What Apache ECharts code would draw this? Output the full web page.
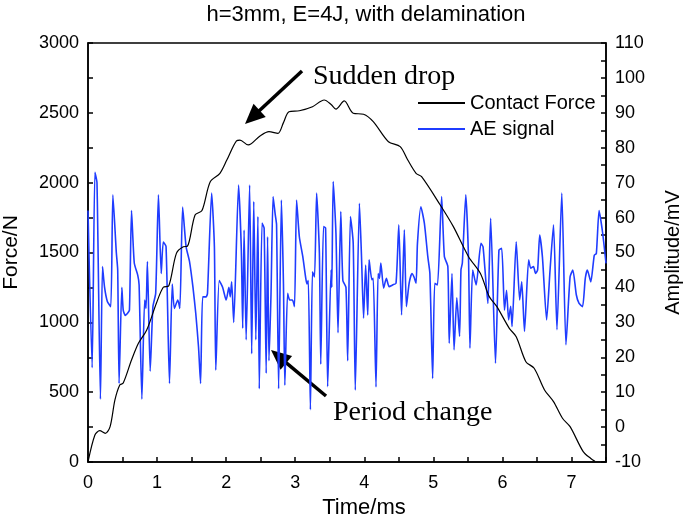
<!DOCTYPE html>
<html>
<head>
<meta charset="utf-8">
<script src="https://cdn.jsdelivr.net/npm/echarts@6/dist/echarts.min.js"></script>
<style>html,body{margin:0;padding:0;background:#fff}#c{width:685px;height:520px}</style>
</head>
<body>
<div id="c"></div>
<script>
// ---- data ----
const forceTime = [0,0.10,0.17,0.25,0.32,0.39,0.46,0.51,0.63,0.73,0.85,0.99,1.09,1.17,1.28,1.38,1.44,1.55,1.65,1.77,1.91,2.01,2.15,2.20,2.32,2.49,2.62,2.75,2.83,2.91,3.06,3.25,3.42,3.52,3.59,3.71,3.84,3.99,4.13,4.35,4.52,4.63,4.75,4.83,5.10,5.29,5.51,5.68,5.81,5.92,6.10,6.20,6.34,6.46,6.61,6.74,6.87,6.98,7.17,7.28,7.34];
const forceN = [0,193,224,205,253,444,551,565,730,850,945,1136,1251,1262,1494,1541,1545,1768,1800,2007,2067,2162,2300,2305,2270,2334,2365,2353,2430,2508,2515,2544,2592,2560,2527,2585,2497,2490,2437,2293,2258,2162,2067,2043,1840,1685,1470,1351,1184,1112,957,897,718,671,516,432,313,253,74,25,5];

const aeTime = [0,0.06,0.10,0.13,0.18,0.21,0.24,0.28,0.33,0.36,0.41,0.43,0.45,0.49,0.51,0.54,0.57,0.60,0.63,0.67,0.72,0.74,0.78,0.82,0.84,0.86,0.90,0.94,0.98,1.02,1.06,1.09,1.13,1.18,1.22,1.25,1.30,1.33,1.37,1.42,1.47,1.52,1.56,1.60,1.63,1.66,1.71,1.73,1.79,1.83,1.85,1.90,1.95,2.00,2.04,2.06,2.08,2.11,2.18,2.22,2.24,2.26,2.29,2.34,2.37,2.40,2.43,2.46,2.48,2.52,2.55,2.58,2.60,2.62,2.65,2.68,2.71,2.73,2.76,2.80,2.83,2.85,2.89,2.92,2.96,2.99,3.02,3.06,3.11,3.15,3.17,3.19,3.22,3.25,3.28,3.31,3.35,3.37,3.41,3.44,3.47,3.52,3.53,3.55,3.59,3.62,3.66,3.69,3.735,3.76,3.80,3.84,3.87,3.93,3.96,3.99,4.02,4.05,4.07,4.11,4.13,4.17,4.20,4.22,4.24,4.28,4.32,4.36,4.41,4.46,4.50,4.54,4.58,4.61,4.65,4.69,4.72,4.75,4.77,4.82,4.87,4.92,4.95,4.99,5.02,5.06,5.12,5.16,5.21,5.23,5.27,5.30,5.34,5.38,5.40,5.42,5.47,5.51,5.53,5.57,5.62,5.69,5.72,5.79,5.83,5.90,5.95,5.99,6.03,6.06,6.09,6.12,6.14,6.20,6.25,6.28,6.32,6.38,6.41,6.45,6.48,6.51,6.54,6.58,6.64,6.69,6.74,6.79,6.86,6.92,6.98,7.02,7.07,7.11,7.16,7.20,7.23,7.28,7.33,7.36,7.40,7.45,7.50];
const aeAmp = [62,17,73,70,8,46,40,36,34.5,66.5,50,45,12.5,40,33.5,32,32.5,33.5,62,47,43.5,40.7,8,36.4,34,47.4,16,34.5,38.3,66.5,44,53,51.7,12.5,41,34,36.4,34,63,51.7,47.4,40,32.6,23,12.5,37.3,37.3,38.3,67,51.7,16.3,42,40,36.4,40,37.3,41.6,30,69.3,50.7,28.3,56.4,25,69.3,21,64.6,25,60.3,11,58.4,57,15.4,54.5,19,38.3,66,61,58,11,65,41,12,38.3,36.4,36.4,34.5,65,54.5,48.8,43,41,42,5,44.5,43,67,50,18,57.4,57,11.6,45,40,70.3,55.5,27,61.7,42,40,19,60.3,52.6,10.6,64.1,48.8,31.2,46.4,32.1,47.9,42.2,42.6,11.5,44,42.6,47,39.8,42.6,40.2,40.7,41.2,57.9,32.1,56.5,34.5,41.2,44,43,41.2,52.6,63.1,58.4,48.8,44,13.9,41.2,40.7,66,48.8,46,24,44,22.1,37,26,45,47,66.5,47.9,22.6,45,40.7,52.6,51.6,35.4,59.8,18.3,50.7,51.2,33.5,39.2,30.7,34.6,28.8,53.1,36.4,41.6,27.4,47.9,45.5,46,44,45,55,48.6,30.7,45,57.9,27.9,67,23.6,43,45,37.9,35.4,34.5,42.6,45,41.6,49.2,49.7,62,55.8,46.9];

const seriesNames = ['Contact Force', 'AE signal'];
const titleText = 'h=3mm, E=4J, with delamination';
const xName = 'Time/ms', yLeftName = 'Force/N', yRightName = 'Amplitude/mV';
const noteDrop = 'Sudden drop', notePeriod = 'Period change';

// ---- chart ----
const FONT = 'Liberation Sans, Arial, sans-serif';
const SERIF = 'Liberation Serif, Times New Roman, serif';
const chart = echarts.init(document.getElementById('c'), null, {renderer: 'canvas'});
const forceData = forceTime.map((t, i) => [t, forceN[i]]);
const aeData = aeTime.map((t, i) => [t, aeAmp[i]]);

const axisCommon = {
  axisLine: {show: true, lineStyle: {color: '#000', width: 1.5}},
  axisTick: {show: true, inside: true, length: 5, lineStyle: {color: '#000', width: 1.5}},
  splitLine: {show: false},
  axisLabel: {color: '#000', fontSize: 18, fontFamily: FONT, margin: 9},
  nameTextStyle: {color: '#000', fontSize: 21, fontFamily: FONT},
  nameLocation: 'middle'
};

function arrow(x1, y1, x2, y2) {
  const dx = x2 - x1, dy = y2 - y1, L = Math.hypot(dx, dy);
  const ux = dx / L, uy = dy / L, px = -uy, py = ux;
  const hl = 20, hw = 9;
  const bx = x2 - ux * hl, by = y2 - uy * hl;
  return [
    {type: 'line', shape: {x1: x1, y1: y1, x2: bx + ux * 2, y2: by + uy * 2}, style: {stroke: '#000', lineWidth: 3.5}},
    {type: 'polygon', shape: {points: [[x2, y2], [bx + px * hw, by + py * hw], [bx - px * hw, by - py * hw]]}, style: {fill: '#000'}}
  ];
}

chart.setOption({
  animation: false,
  backgroundColor: '#fff',
  grid: {left: 88, right: 79, top: 43, bottom: 58, show: true, borderColor: '#000', borderWidth: 1.5,
    backgroundColor: 'transparent', containLabel: false, outerBoundsMode: 'none'},
  legend: {
    orient: 'vertical', left: 413, top: 88, itemWidth: 47, itemHeight: 2, itemGap: 6, icon: 'rect',
    textStyle: {color: '#000', fontSize: 20, fontFamily: FONT, lineHeight: 20},
    data: seriesNames
  },
  xAxis: Object.assign({}, axisCommon, {
    type: 'value', min: 0, max: 7.5, interval: 0.5, name: xName, nameGap: 31,
    nameTextStyle: Object.assign({}, axisCommon.nameTextStyle, {fontSize: 22, padding: [0, 0, 0, 34]}),
    axisLabel: Object.assign({}, axisCommon.axisLabel, {margin: 12, formatter: v => (Math.abs(v - Math.round(v)) < 1e-9 ? String(Math.round(v)) : '')})
  }),
  yAxis: [
    Object.assign({}, axisCommon, {
      type: 'value', min: 0, max: 3000, interval: 250, name: yLeftName, nameGap: 66, position: 'left',
      axisLabel: Object.assign({}, axisCommon.axisLabel, {formatter: v => (v % 500 === 0 ? String(v) : '')})
    }),
    Object.assign({}, axisCommon, {
      type: 'value', min: -10, max: 110, interval: 5, name: yRightName, nameGap: 57, position: 'right',
      nameTextStyle: Object.assign({}, axisCommon.nameTextStyle, {fontSize: 20}),
      axisLabel: Object.assign({}, axisCommon.axisLabel, {formatter: v => (v % 10 === 0 ? String(v) : '')})
    })
  ],
  series: [
    {name: seriesNames[0], type: 'line', yAxisIndex: 0, data: forceData, showSymbol: false, smooth: 0.3,
      lineStyle: {color: '#000', width: 1.2}, itemStyle: {color: '#000'}, z: 3},
    {name: seriesNames[1], type: 'line', yAxisIndex: 1, data: aeData, showSymbol: false, smooth: 0.2,
      lineStyle: {color: '#1f3cff', width: 1.6}, itemStyle: {color: '#1f3cff'}, z: 2}
  ],
  graphic: [
    {type: 'text', x: 366, y: 15, style: {text: titleText, align: 'center', verticalAlign: 'middle', fontSize: 22, fontFamily: FONT, fill: '#000'}},
    {type: 'text', x: 313, y: 77, style: {text: noteDrop, align: 'left', verticalAlign: 'middle', fontSize: 28, fontFamily: SERIF, fill: '#000'}},
    {type: 'text', x: 333, y: 413, style: {text: notePeriod, align: 'left', verticalAlign: 'middle', fontSize: 28, fontFamily: SERIF, fill: '#000'}}
  ].concat(arrow(302, 71, 245, 124), arrow(326, 396, 271, 350))
});
</script>
</body>
</html>
